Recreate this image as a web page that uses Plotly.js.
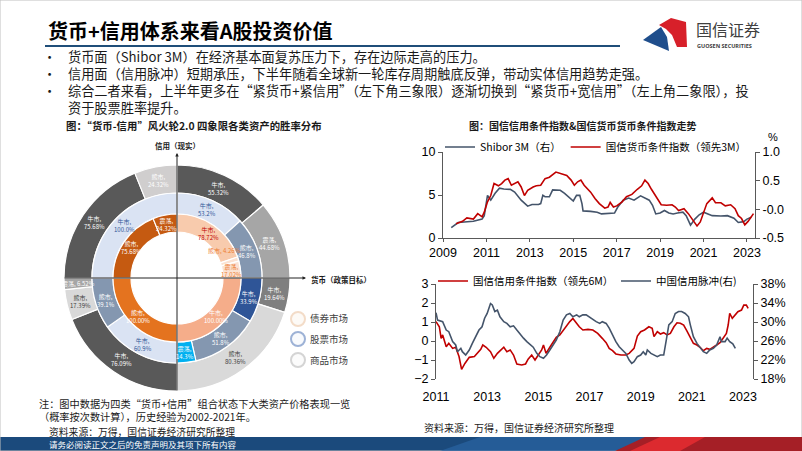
<!DOCTYPE html>
<html><head><meta charset="utf-8">
<script src="https://cdn.plot.ly/plotly-3.0.1.min.js"></script>
<style>html,body{margin:0;padding:0;background:#fff;overflow:hidden}#chart{width:802px;height:451px}</style>
</head><body><div id="chart"></div>
<script>
// ---------------- DATA ----------------
// Donut (wheel): clockwise quadrants starting at 12 o'clock: 一象限, 四象限, 三象限, 二象限
const quadrantNames = ['一象限','四象限','三象限','二象限'];
const bondState  = [['牛市','熊市','震荡'],['牛市'],['熊市'],['熊市','震荡']];
const bondPct    = [[78.72,4.26,17.02],[100.00],[100.00],[75.68,24.32]];
const stockState = [['牛市','熊市'],['牛市','熊市','震荡'],['牛市','熊市'],['牛市']];
const stockPct   = [[53.2,46.8],[33.9,51.8,14.3],[60.9,39.1],[100.0]];
const commState  = [['牛市','震荡'],['牛市','熊市'],['牛市','熊市','震荡'],['牛市','熊市']];
const commPct    = [[55.32,44.68],[19.64,80.36],[76.09,17.39,6.52],[75.68,24.32]];
const marketNames = ['债券市场','股票市场','商品市场'];

// Top-right chart
const xTicksTop = [2009,2011,2013,2015,2017,2019,2021,2023];
const shiborX = [2009.38,2009.7,2010.4,2010.8,2010.9,2011.05,2011.2,2011.4,2011.6,2011.8,2012.1,2012.3,2012.6,2012.9,2013.1,2013.4,2013.5,2013.6,2013.7,2013.9,2014.05,2014.4,2014.6,2014.85,2015.0,2015.15,2015.3,2015.4,2015.45,2015.8,2016.1,2016.3,2016.7,2016.9,2017.05,2017.3,2017.55,2017.8,2018.1,2018.3,2018.5,2018.65,2018.8,2019.0,2019.2,2019.4,2019.6,2019.8,2020.05,2020.2,2020.4,2020.6,2020.8,2021.0,2021.2,2021.4,2021.8,2022.1,2022.4,2022.6,2022.85,2023.0,2023.2];
const shiborY = [1.2,1.8,1.94,2.2,2.6,4.96,4.4,5.2,5.8,5.7,5.65,5.35,4.4,3.7,3.9,3.9,4.0,4.96,4.8,4.8,5.6,5.55,5.2,4.6,4.3,4.96,4.96,4.0,3.15,3.1,3.0,2.8,2.9,2.9,3.6,4.4,4.65,4.4,4.9,4.65,4.4,3.8,2.8,2.9,3.2,2.9,2.8,2.9,3.0,2.6,1.5,2.2,2.7,3.0,2.8,2.6,2.55,2.6,2.3,1.8,1.9,2.2,2.4];
const moneyX = [2009.6,2009.9,2010.1,2010.4,2010.6,2010.8,2010.9,2011.05,2011.2,2011.35,2011.55,2011.7,2011.85,2012.0,2012.15,2012.3,2012.45,2012.6,2012.75,2012.9,2013.15,2013.3,2013.5,2013.7,2013.9,2014.2,2014.45,2014.7,2014.9,2015.05,2015.2,2015.35,2015.5,2015.8,2016.0,2016.2,2016.45,2016.6,2016.7,2016.85,2017.0,2017.25,2017.45,2017.7,2017.95,2018.15,2018.3,2018.45,2018.6,2018.85,2019.05,2019.3,2019.55,2019.7,2019.85,2020.1,2020.3,2020.55,2020.7,2020.85,2021.0,2021.15,2021.4,2021.55,2021.8,2022.0,2022.25,2022.45,2022.6,2022.75,2022.9,2023.05,2023.3];
const moneyY = [-0.25,-0.21,-0.15,-0.17,-0.075,-0.13,-0.05,0.13,0.24,0.45,0.41,0.45,0.51,0.535,0.42,0.45,0.48,0.39,0.24,0.33,0.39,0.41,0.42,0.535,0.56,0.65,0.62,0.59,0.51,0.42,0.48,0.51,0.42,0.30,0.19,0.10,0.02,0.04,0.12,0.04,0.06,0.13,0.22,0.26,0.35,0.41,0.51,0.45,0.35,0.19,0.08,0.07,0.08,0.04,-0.02,0.01,-0.075,-0.21,-0.29,-0.22,-0.075,0.10,0.20,0.115,0.115,0.06,0.08,0.01,-0.11,-0.16,-0.27,-0.21,-0.075];
const rightTopTicks = [-0.5,0,0.5,1.0];
const rightTopText  = ['-0.5','-0.0','0.5','1.0'];

// Bottom-right chart
const xTicksBot = [2011,2013,2015,2017,2019,2021,2023];
const creditX = [2011.0,2011.13,2011.2,2011.26,2011.4,2011.5,2011.65,2011.77,2011.9,2012.0,2012.13,2012.3,2012.5,2012.6,2012.75,2012.83,2012.96,2013.13,2013.26,2013.4,2013.5,2013.65,2013.77,2013.9,2014.03,2014.16,2014.35,2014.5,2014.6,2014.74,2014.87,2015.0,2015.13,2015.2,2015.3,2015.45,2015.58,2015.7,2015.84,2016.03,2016.23,2016.35,2016.5,2016.6,2016.74,2016.94,2017.13,2017.32,2017.5,2017.65,2017.77,2017.9,2018.03,2018.23,2018.42,2018.55,2018.74,2018.87,2019.0,2019.15,2019.32,2019.45,2019.52,2019.65,2019.77,2019.9,2020.03,2020.16,2020.3,2020.42,2020.55,2020.68,2020.8,2020.94,2021.06,2021.2,2021.32,2021.45,2021.58,2021.7,2021.84,2021.97,2022.1,2022.23,2022.35,2022.42,2022.48,2022.58,2022.68,2022.8,2022.94,2023.03,2023.13,2023.2];
const creditY = [1.02,0.75,0.14,0.32,-0.3,-0.12,-0.39,-0.33,-0.82,-1.49,-1.18,-0.86,-0.82,-0.65,-0.44,-0.21,-0.33,-0.56,-0.91,-0.65,-0.51,-0.33,-0.56,-0.47,-0.74,-1.21,-1.26,-1.21,-0.96,-0.74,-1.0,-0.74,-0.47,-0.21,-0.65,-0.33,-0.04,0.19,0.32,0.67,1.02,1.19,0.93,0.75,0.58,0.61,0.58,0.40,0.14,-0.09,-0.39,-0.51,-0.68,-0.74,-0.74,-0.65,-0.39,0.26,0.49,0.58,0.75,0.67,0.23,0.49,0.37,0.44,0.32,0.40,0.75,0.96,0.93,0.84,0.54,0.14,-0.12,-0.21,-0.33,-0.51,-0.39,-0.44,-0.30,-0.21,-0.09,0.14,0.40,0.84,1.46,1.19,1.37,1.54,1.63,1.89,1.89,1.72];
const impulseX = [2011.0,2011.06,2011.26,2011.4,2011.5,2011.65,2011.77,2011.84,2011.97,2012.03,2012.16,2012.3,2012.42,2012.55,2012.68,2012.8,2012.9,2013.0,2013.13,2013.2,2013.3,2013.4,2013.5,2013.65,2013.77,2013.9,2014.03,2014.16,2014.3,2014.42,2014.55,2014.68,2014.8,2014.94,2015.06,2015.2,2015.32,2015.45,2015.58,2015.7,2015.84,2015.97,2016.1,2016.23,2016.35,2016.5,2016.6,2016.74,2016.87,2017.0,2017.13,2017.26,2017.4,2017.5,2017.65,2017.77,2017.9,2018.03,2018.16,2018.3,2018.42,2018.55,2018.65,2018.74,2018.87,2019.0,2019.1,2019.2,2019.26,2019.4,2019.52,2019.65,2019.77,2019.9,2020.0,2020.1,2020.23,2020.35,2020.48,2020.6,2020.74,2020.87,2020.94,2021.06,2021.2,2021.32,2021.45,2021.58,2021.7,2021.84,2021.97,2022.1,2022.16,2022.3,2022.38,2022.48,2022.6,2022.7];
const impulseY = [31.96,30.4,30.07,28.3,27.96,25.86,25.16,23.75,24.46,23.75,23.05,24.1,25.5,26.9,28.3,29.0,30.8,31.8,33.9,33.6,32.2,32.5,31.1,30.07,29.7,29.0,29.2,28.3,27.3,26.6,25.86,25.16,24.7,23.4,22.7,22.35,23.05,24.1,25.16,26.2,27.96,30.4,31.5,31.8,31.1,31.5,31.1,31.5,31.5,31.0,30.4,30.07,29.7,30.07,29.7,28.7,27.3,25.86,24.8,24.1,23.4,22.0,21.3,21.65,22.7,23.05,23.75,23.05,24.1,23.4,23.05,22.7,23.05,23.05,26.2,29.4,30.07,31.8,32.2,32.2,31.8,31.1,29.4,26.9,25.5,24.7,23.75,23.4,24.1,24.46,25.16,26.9,25.86,25.86,26.6,25.86,25.4,24.46];
const rightBotTicks = [18,22,26,30,34,38];
const rightBotText  = ['18%','22%','26%','30%','34%','38%'];

// ---------------- STYLES / GEOMETRY ----------------
const W=802,H=451;
const px=x=>x/W, py=y=>1-y/H;
const CJK='"Noto Sans CJK SC","Noto Sans",sans-serif';
const LAT='"Liberation Sans",Arial,sans-serif';
const CX=177, CY=278;

const bondColors  = [['#f8cbad','#fbe2d2','#fbe2d2'],['#f5ad8a'],['#e4731f'],['#c55a11','#c55a11']];
const bondText    = [['#c00000','#ed7d31','#ed7d31'],['#ffffff'],['#ffffff'],['#ffffff','#ffffff']];
const stockColors = [['#dae3f3','#8497b0'],['#2f5597','#8497b0','#00b0f0'],['#dae3f3','#8497b0'],['#dae3f3']];
const stockText   = [['#2f5597','#ffffff'],['#ffffff','#ffffff','#ffffff'],['#2f5597','#ffffff'],['#2f5597']];
const commColors  = [['#595959','#a6a6a6'],['#7f7f7f','#d9d9d9'],['#595959','#d9d9d9','#a6a6a6'],['#595959','#d0cece']];
const commText    = [['#ffffff','#ffffff'],['#ffffff','#404040'],['#ffffff','#404040','#ffffff'],['#ffffff','#ffffff']];

const wheelLabels = [];
function ring(name, states, pcts, colors, tcolors, digits, R, r){
  const labels=[],values=[],cols=[];
  let cum = 0;
  const rm = (R+r)/2;
  states.forEach((qs,qi)=>qs.forEach((s,si)=>{
    const v = pcts[qi][si]/100*25;
    labels.push(name+'-'+quadrantNames[qi]+'-'+s);
    values.push(v);
    cols.push(colors[qi][si]);
    // label at the slice's middle angle (clockwise from 12 o'clock);
    // very thin slices on the narrow inner ring get their label nudged back to stay readable
    const span = v*3.6;
    let midDeg = (cum + v/2)*3.6;
    if (span < 8 && rm < 60) midDeg -= 13;
    const mid = midDeg*Math.PI/180;
    const txt = s + (span < 8 ? ', ' : ',<br>') + pcts[qi][si].toFixed(digits)+'%';
    wheelLabels.push({text:txt, x:px(CX + rm*Math.sin(mid)), y:py(CY - rm*Math.cos(mid)),
      xref:'paper', yref:'paper', showarrow:false, xanchor:'center', yanchor:'middle',
      font:{family:CJK, size:6, color:tcolors[qi][si]}});
    cum += v;
  }));
  return {type:'pie', name, labels, values, textinfo:'none', sort:false,
    direction:'clockwise', rotation:0, hole:r/R, showlegend:false, hoverinfo:'skip',
    marker:{colors:cols, line:{color:'#ffffff', width:1.2}},
    domain:{x:[px(CX-R),px(CX+R)], y:[py(CY+R),py(CY-R)]}};
}

const traces = [
  ring(marketNames[2], commState, commPct, commColors, commText, 2, 113, 85),
  ring(marketNames[1], stockState, stockPct, stockColors, stockText, 1, 85, 64),
  ring(marketNames[0], bondState, bondPct, bondColors, bondText, 2, 64, 46),
  {type:'scatter', mode:'lines', x:shiborX, y:shiborY, xaxis:'x', yaxis:'y', name:'Shibor 3M（右）',
   line:{color:'#44546a', width:1.6}, legend:'legend', hoverinfo:'skip'},
  {type:'scatter', mode:'lines', x:moneyX, y:moneyY, xaxis:'x', yaxis:'y2', name:'国信货币条件指数（领先3M）',
   line:{color:'#c00000', width:1.6}, legend:'legend', hoverinfo:'skip'},
  {type:'scatter', mode:'lines', x:creditX, y:creditY, xaxis:'x2', yaxis:'y3', name:'国信信用条件指数（领先6M）',
   line:{color:'#c00000', width:1.6}, legend:'legend2', hoverinfo:'skip'},
  {type:'scatter', mode:'lines', x:impulseX, y:impulseY, xaxis:'x2', yaxis:'y4', name:'中国信用脉冲(右)',
   line:{color:'#44546a', width:1.6}, legend:'legend2', hoverinfo:'skip'}
];

const tickF = {family:LAT, size:12.5, color:'#000'};
const axBase = {showgrid:false, zeroline:false, showline:true, linecolor:'#595959', linewidth:1,
  ticks:'outside', ticklen:4, tickcolor:'#595959', tickfont:tickF, fixedrange:true};

function ann(text, x, y, size, opts){
  return Object.assign({text, x:px(x), y:py(y), xref:'paper', yref:'paper', showarrow:false,
    xanchor:'left', yanchor:'middle', font:{family:CJK, size, color:'#1a1a1a'}}, opts||{});
}
function path(pts){ return 'M'+pts.map(p=>px(p[0])+','+py(p[1])).join('L')+'Z'; }

const bulletLines = [
  '货币面（Shibor 3M）在经济基本面复苏压力下，存在边际走高的压力。',
  '信用面（信用脉冲）短期承压，下半年随着全球新一轮库存周期触底反弹，带动实体信用趋势走强。',
  '综合二者来看，上半年更多在“紧货币+紧信用”（左下角三象限）逐渐切换到“紧货币+宽信用”（左上角二象限），投',
  '资于股票胜率提升。'
];
const bulletMarks = ['•','•','•','&nbsp;'];
const noteLines = [
  '注：图中数据为四类“货币+信用”组合状态下大类资产价格表现一览',
  '（概率按次数计算），历史经验为2002-2021年。'
];
const annotations = [
  ann('<b>货币+信用体系来看A股投资价值</b>', 46, 30, 20, {font:{family:CJK,size:20,color:'#000'}}),
  ann('国信证券', 694, 29, 16, {font:{family:CJK,size:16,color:'#404040'}}),
  ann('<b>GUOSEN SECURITIES</b>', 695, 46, 5.5, {font:{family:'"Open Sans",sans-serif',size:5.5,color:'#404040'}}),
  ann(bulletMarks.join('<br>'), 57, 82, 13.2, {align:'left', xanchor:'right', borderpad:0}),
  ann(bulletLines.join('<br>'), 67, 82, 13.2, {align:'left', borderpad:0}),
  ann('<b>图：“货币-信用”风火轮2.0 四象限各类资产的胜率分布</b>', 64, 125.5, 10.4),
  ann('<b>图：国信信用条件指数&国信货币货币条件指数走势</b>', 467, 126, 10),
  ann('<b>信用（现实）</b>', CX, 145, 7.5, {xanchor:'center'}),
  ann('<b>货币（政策目标）</b>', 309, 279, 7.5),
  ann(marketNames[0], 308, 318, 9.5, {font:{family:CJK,size:9.5,color:'#404040'}}),
  ann(marketNames[1], 308, 339, 9.5, {font:{family:CJK,size:9.5,color:'#404040'}}),
  ann(marketNames[2], 308, 360, 9.5, {font:{family:CJK,size:9.5,color:'#404040'}}),
  ann(noteLines.join('<br>'), 38, 409.5, 10.2, {align:'left', borderpad:0}),
  ann('资料来源：万得，国信证券经济研究所整理', 48, 432, 9.8, {borderpad:0}),
  ann('资料来源：万得，国信证券经济研究所整理', 422, 427, 10),
  ann('请务必阅读正文之后的免责声明及其项下所有内容', 47, 444, 8.5, {font:{family:CJK,size:8.5,color:'#ffffff'}}),
  ann('%', 766, 137, 11, {font:{family:LAT,size:11,color:'#000'}}),
  // axis arrows of the wheel
  {x:px(CX), y:py(153), xref:'paper', yref:'paper', ax:0, ay:239, text:'', showarrow:true,
   arrowhead:2, arrowsize:0.7, arrowwidth:1, arrowcolor:'#222'},
  {x:px(306), y:py(CY), xref:'paper', yref:'paper', ax:-243, ay:0, text:'', showarrow:true,
   arrowhead:2, arrowsize:0.7, arrowwidth:1, arrowcolor:'#222'}
].concat(wheelLabels);

const shapes = [
  {type:'rect', xref:'paper', yref:'paper', x0:0, x1:1, y0:0, y1:1, line:{color:'#bfbfbf', width:1}},
  {type:'line', xref:'paper', yref:'paper', x0:px(45), x1:px(620), y0:py(46), y1:py(46), line:{color:'#1f4e79', width:2.2}},
  {type:'path', xref:'paper', yref:'paper', path:path([[643,40],[661,27],[667,37],[669,51]]), fillcolor:'#1f4e8c', line:{width:0}},
  {type:'path', xref:'paper', yref:'paper', path:path([[659,25],[671,18],[686,22],[687,47],[677,47],[672,35],[666,29]]), fillcolor:'#d7202a', line:{width:0}},
  {type:'circle', xref:'paper', yref:'paper', x0:px(291), x1:px(305), y0:py(326), y1:py(312), fillcolor:'#fdfaf6', line:{color:'#f3dcc8', width:2}},
  {type:'circle', xref:'paper', yref:'paper', x0:px(291), x1:px(305), y0:py(346), y1:py(332), fillcolor:'#f8fafd', line:{color:'#9db2d6', width:2}},
  {type:'circle', xref:'paper', yref:'paper', x0:px(291), x1:px(305), y0:py(367), y1:py(353), fillcolor:'#fbfbfb', line:{color:'#d4d4d4', width:2}},
  {type:'rect', xref:'paper', yref:'paper', x0:0, x1:1, y0:0, y1:py(437), fillcolor:'#1b4a7c', line:{width:0}, layer:'below'},
  {type:'path', xref:'paper', yref:'paper', path:path([[440,451],[480,437],[650,437],[615,451]]), fillcolor:'#2a64a3', opacity:0.7, line:{width:0}},
  {type:'path', xref:'paper', yref:'paper', path:path([[615,451],[645,437],[802,437],[802,451]]), fillcolor:'#a51f26', line:{width:0}},
  {type:'path', xref:'paper', yref:'paper', path:path([[630,451],[660,437],[705,437],[680,451]]), fillcolor:'#dc2a2f', line:{width:0}}
];

const legFont = {family:CJK, size:10.5, color:'#000'};
const layout = {
  width:W, height:H, margin:{l:0,r:0,t:0,b:0}, paper_bgcolor:'#fff', plot_bgcolor:'rgba(0,0,0,0)',
  hovermode:false, font:{family:CJK, color:'#000'},
  xaxis:Object.assign({}, axBase, {domain:[px(443),px(755)], range:[2009,2023.37], anchor:'y',
    tickmode:'array', tickvals:xTicksTop, ticklen:3}),
  yaxis:Object.assign({}, axBase, {domain:[py(238),py(152)], range:[0,10], anchor:'x',
    tickmode:'array', tickvals:[0,5,10]}),
  yaxis2:Object.assign({}, axBase, {overlaying:'y', side:'right', anchor:'x', range:[-0.5,1.0],
    tickmode:'array', tickvals:rightTopTicks, ticktext:rightTopText}),
  xaxis2:Object.assign({}, axBase, {domain:[px(436),px(753)], range:[2011,2023.39], anchor:'y3',
    tickmode:'array', tickvals:xTicksBot, showline:false, ticks:'', ticklabelstandoff:8}),
  yaxis3:Object.assign({}, axBase, {domain:[py(379),py(284)], range:[-2,3], anchor:'x2',
    tickmode:'array', tickvals:[-2,-1,0,1,2,3]}),
  yaxis4:Object.assign({}, axBase, {overlaying:'y3', side:'right', anchor:'x2', range:[18,38],
    tickmode:'array', tickvals:rightBotTicks, ticktext:rightBotText}),
  legend:{x:px(440), y:py(147), xanchor:'left', yanchor:'middle', orientation:'h',
    bgcolor:'rgba(0,0,0,0)', font:legFont, itemwidth:30, traceorder:'normal'},
  legend2:{x:px(433), y:py(281), xanchor:'left', yanchor:'middle', orientation:'h',
    bgcolor:'rgba(0,0,0,0)', font:legFont, itemwidth:30, traceorder:'normal',
    entrywidth:138, entrywidthmode:'pixels'},
  annotations, shapes
};

Plotly.newPlot('chart', traces, layout, {staticPlot:true, displayModeBar:false});
</script></body></html>
